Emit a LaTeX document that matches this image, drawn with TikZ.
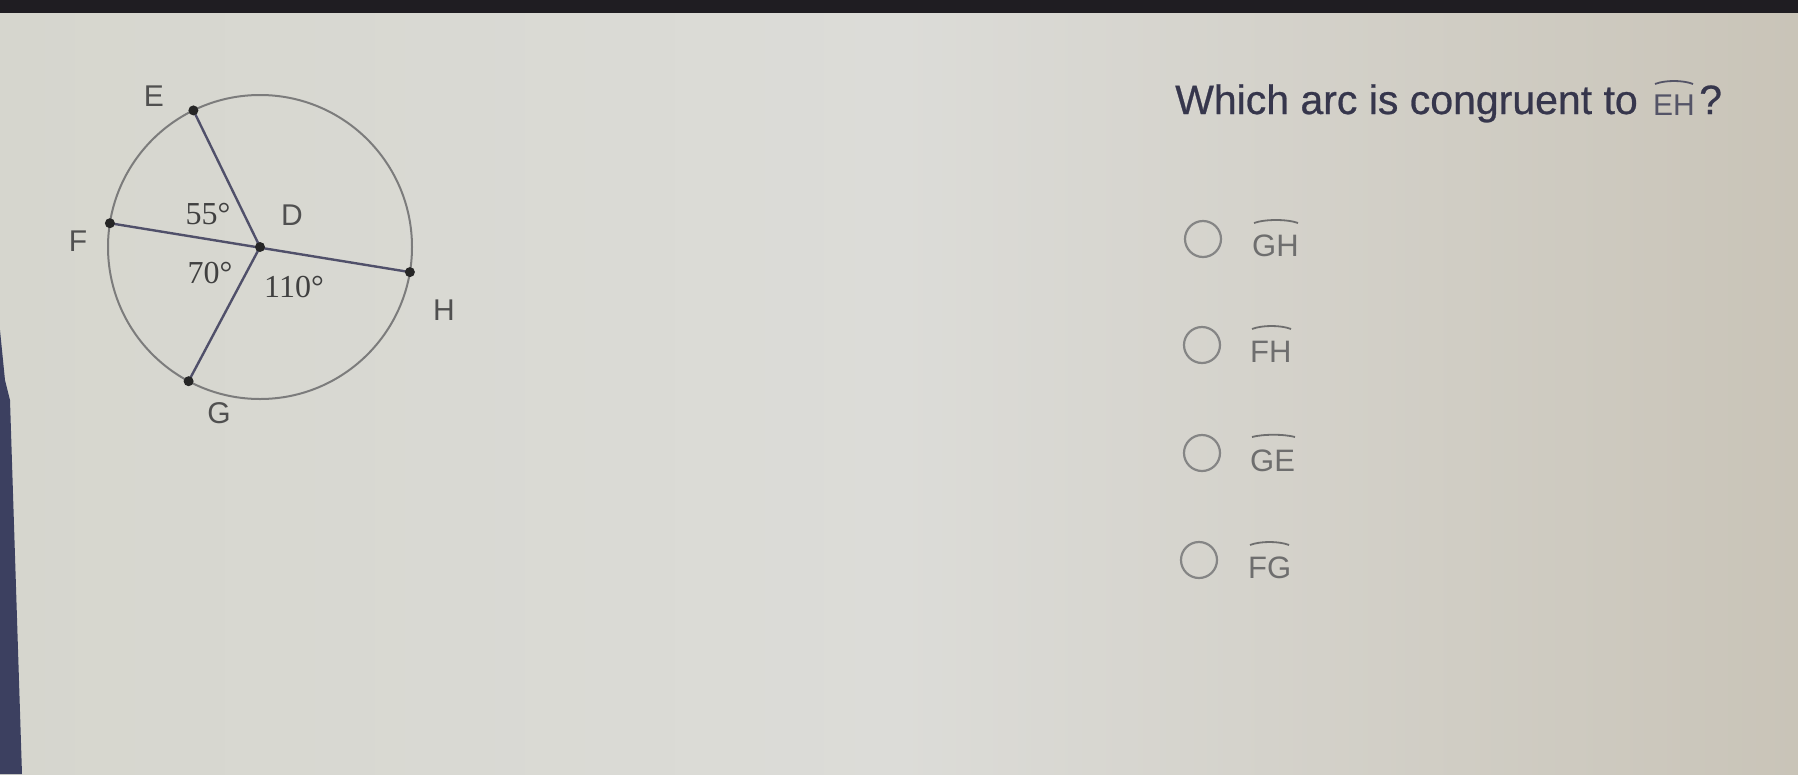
\documentclass[tikz,border=0pt]{standalone}
\usepackage{fontspec}
\setmainfont{Liberation Sans}
\newfontfamily\serifdeg{Liberation Serif}
\newfontfamily\qfont[FakeBold=0.6]{Liberation Sans}
\definecolor{bgL}{HTML}{D6D6CE}
\definecolor{bgM}{HTML}{DCDCD8}
\definecolor{bgR}{HTML}{C9C4B8}
\definecolor{bandc}{HTML}{1F1D22}
\definecolor{wedgec}{HTML}{3C4060}
\definecolor{circc}{HTML}{7C7C7C}
\definecolor{radc}{HTML}{50506A}
\definecolor{lblc}{HTML}{505050}
\definecolor{degc}{HTML}{404040}
\definecolor{qc}{HTML}{36364C}
\definecolor{optc}{HTML}{6E6E6E}
\definecolor{radioc}{HTML}{858585}
\begin{document}
\begin{tikzpicture}[x=1pt,y=-1pt,
  circ/.style={draw=circc,line width=2pt},
  radius line/.style={draw=radc,line width=2.4pt},
  dotpt/.style={fill=black!85},
  ptlabel/.style={text=lblc,font=\fontsize{30}{30}\selectfont,inner sep=0pt},
  deglabel/.style={text=degc,font=\serifdeg\fontsize{32}{32}\selectfont,inner sep=0pt},
  question/.style={text=qc,font=\qfont\fontsize{41}{41}\selectfont,inner sep=0pt,anchor=base west},
  optlabel/.style={text=optc,font=\fontsize{31}{31}\selectfont,inner sep=0pt,anchor=base west},
  radio/.style={draw=radioc,line width=2.2pt},
  arcmark/.style={draw=optc,line width=1.8pt}
]
\useasboundingbox (0,0) rectangle (1798,774);
% background (photo of a screen)
\shade[left color=bgL, right color=bgR, middle color=bgM] (0,0) rectangle (1798,774);
\fill[bandc] (0,0) rectangle (1798,13);
\fill[wedgec] (0,330) -- (5,380) -- (10,400) -- (22,774) -- (0,774) -- cycle;

% circle figure
\coordinate (D) at (260,247);
\coordinate (E) at (193.4,110.4);
\coordinate (F) at (109.9,223.2);
\coordinate (H) at (409.9,272.1);
\coordinate (G) at (188.6,381.2);
\draw[circ] (D) circle[radius=152pt];
\draw[radius line] (F) -- (H);
\draw[radius line] (D) -- (E);
\draw[radius line] (D) -- (G);
\foreach \p in {D,E,F,G,H} \fill[dotpt] (\p) circle[radius=5pt];

\node[ptlabel] (lE) at (154,96) {E};
\node[ptlabel] (lF) at (78,241) {F};
\node[ptlabel] (lD) at (292,215) {D};
\node[ptlabel] (lH) at (444,310) {H};
\node[ptlabel] (lG) at (219,413) {G};

\node[deglabel] (a55) at (208,214) {55°};
\node[deglabel] (a70) at (210,273) {70°};
\node[deglabel] (a110) at (294,287) {110°};

% question
\node[question] (q) at (1175,114) {Which arc is congruent to};
\node[text=qc!85,font=\fontsize{30}{30}\selectfont,inner sep=0pt,anchor=base west] (qeh) at (1653,115) {EH};
\node[question] (qm) at (1699,114) {?};
\draw[draw=qc!85,line width=1.8pt] (1655,84) .. controls (1665,80) and (1683,80) .. (1693,84);

% options
\draw[radio] (1203,239) circle[radius=18pt];
\node[optlabel] (o1) at (1252,256) {GH};
\draw[arcmark] (1254,223) .. controls (1265,219) and (1287,219) .. (1298,223);

\draw[radio] (1202,345) circle[radius=18pt];
\node[optlabel] (o2) at (1250,362) {FH};
\draw[arcmark] (1252,329) .. controls (1262,325) and (1281,325) .. (1291,329);

\draw[radio] (1202,453) circle[radius=18pt];
\node[optlabel] (o3) at (1250,471) {GE};
\draw[arcmark] (1252,437) .. controls (1263,434) and (1284,434) .. (1295,437);

\draw[radio] (1199,560) circle[radius=18pt];
\node[optlabel] (o4) at (1248,578) {FG};
\draw[arcmark] (1250,545) .. controls (1260,541) and (1279,541) .. (1289,545);
\end{tikzpicture}
\end{document}
